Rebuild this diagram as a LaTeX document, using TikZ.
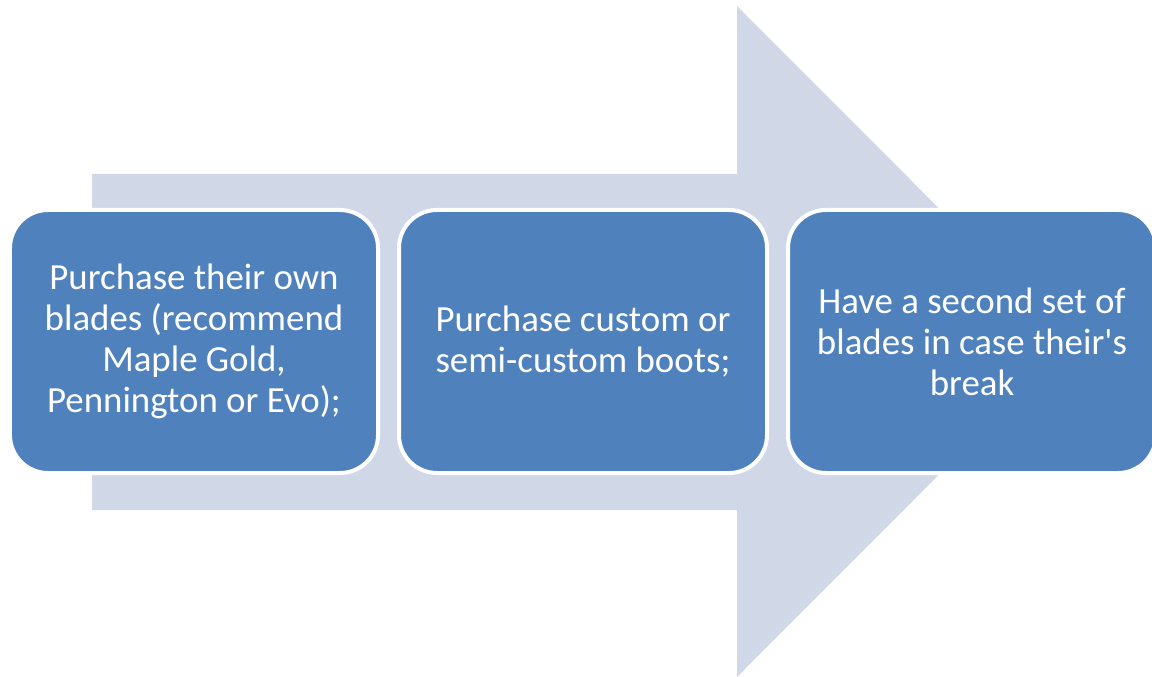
\documentclass[tikz,border=0pt]{standalone}
\usepackage{fontspec}
\setmainfont{Carlito}
\usetikzlibrary{positioning}
\definecolor{boxblue}{RGB}{79,129,189}
\definecolor{arrowgray}{RGB}{208,216,232}
\tikzset{
  stepbox/.style={draw=white,line width=4bp,fill=boxblue,rounded corners=38bp,
    minimum width=368bp,minimum height=263bp,align=center,text=white,
    font=\fontsize{37}{41}\selectfont},
}
\begin{document}
\begin{tikzpicture}[x=1bp,y=-1bp]
      \useasboundingbox (0,0) rectangle (1152,677);
      \fill[arrowgray] (92,174)--(737,174)--(737,6)--(1072,341.5)--(737,677)--(737,510)--(92,510)--cycle;
      \node[stepbox] (blades) at (194,341.5) {Purchase their own\\blades (recommend\\Maple Gold,\\Pennington or Evo);};
      \node[stepbox,right=17bp of blades] (boots) {Purchase custom or\\semi-custom boots;};
      \node[stepbox,right=17bp of boots] (spare) {Have a second set of\\blades in case their\textquotesingle s\\break};

    \end{tikzpicture}
\end{document}
